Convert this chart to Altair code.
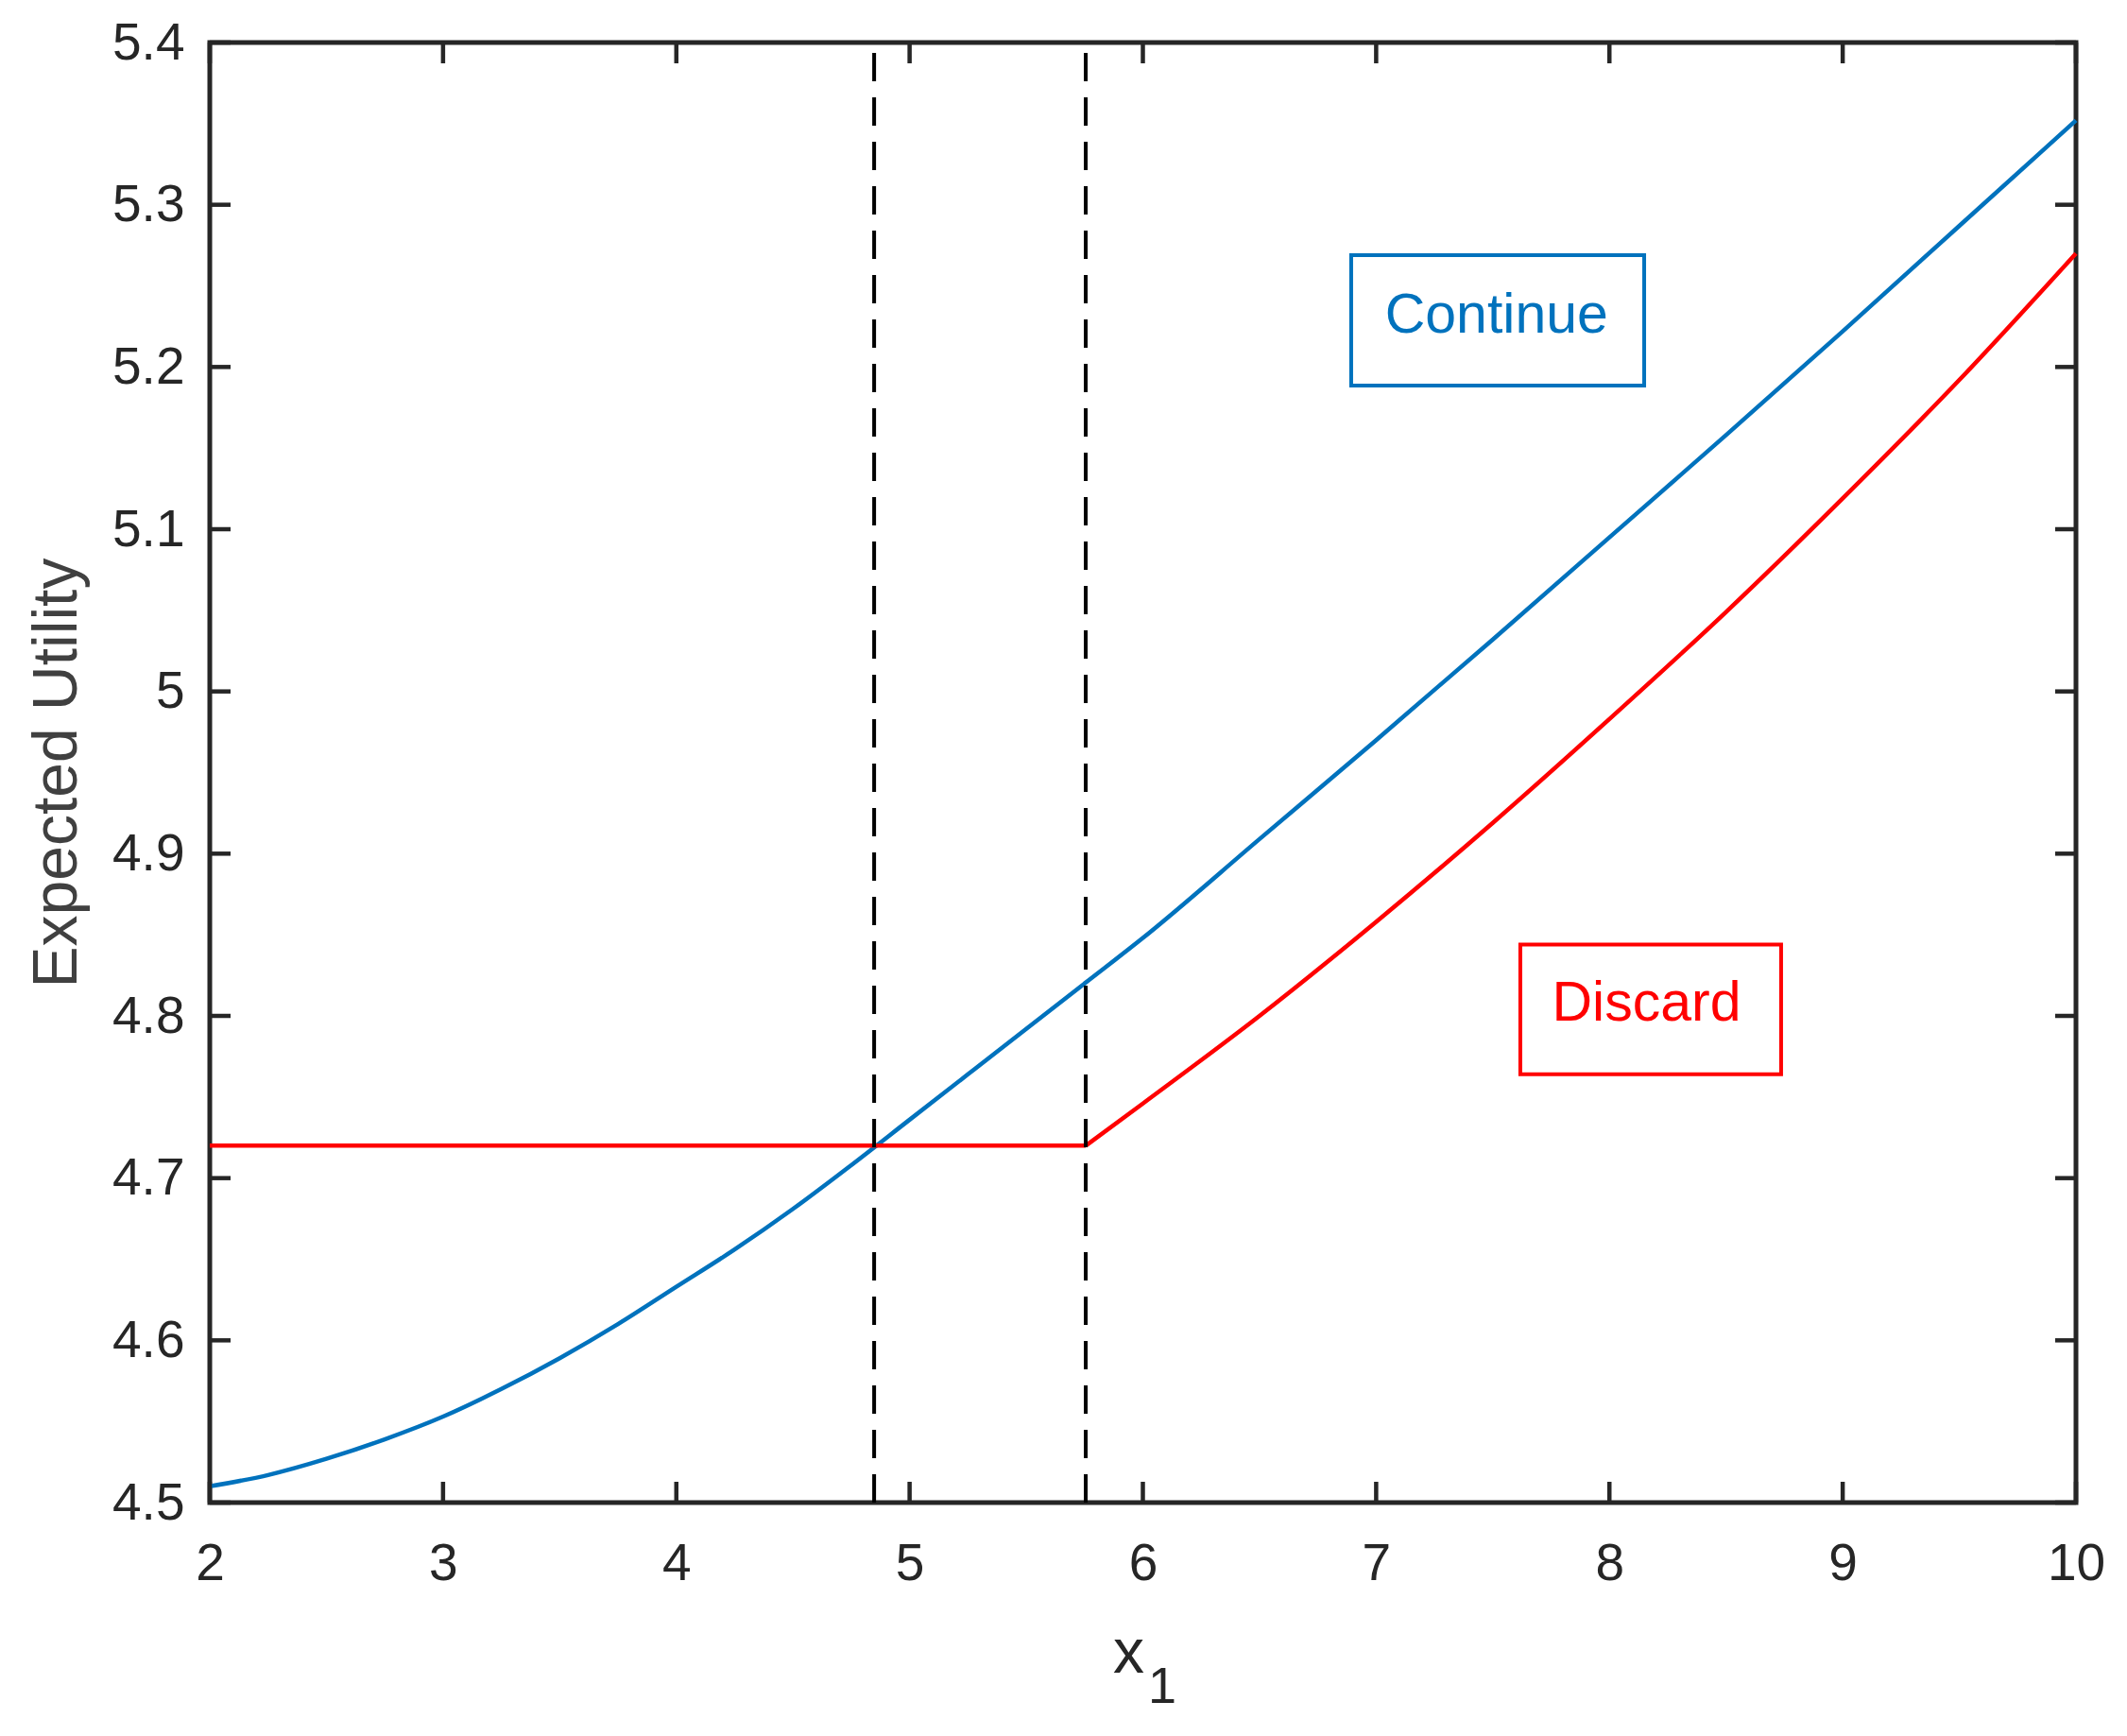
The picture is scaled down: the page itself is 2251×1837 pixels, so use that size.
import altair as alt
import pandas as pd

# ---------------- data ----------------
blue_x = [2.0, 2.25, 2.5, 2.75, 3.0, 3.25, 3.5, 3.75, 4.0, 4.25, 4.5, 4.75,
          5.0, 5.25, 5.5, 5.75, 6.0, 6.5, 7.0, 7.5, 8.0, 8.5, 9.0, 9.5, 10.0]
blue_y = [4.510, 4.517, 4.527, 4.539, 4.553, 4.570, 4.589, 4.610, 4.633, 4.656, 4.681, 4.708,
          4.736, 4.764, 4.792, 4.820, 4.848, 4.909, 4.970, 5.032, 5.095, 5.158, 5.222, 5.287, 5.352]

red_x = [2.0, 5.755, 6.0, 6.5, 7.0, 7.5, 8.0, 8.5, 9.0, 9.5, 10.0]
red_y = [4.72, 4.72, 4.746, 4.800, 4.858, 4.919, 4.983, 5.049, 5.119, 5.192, 5.270]
red_kink = 5.755

thresholds = [4.848, 5.755]

x_ticks = [2, 3, 4, 5, 6, 7, 8, 9, 10]
y_ticks = [4.5, 4.6, 4.7, 4.8, 4.9, 5.0, 5.1, 5.2, 5.3, 5.4]

annot_text = ["Continue", "Discard"]
annot_tx = [7.516, 8.159]
annot_ty = [5.2212, 4.797]
annot_x1 = [6.893, 7.618]
annot_x2 = [8.149, 8.736]
annot_y1 = [5.1885, 4.764]
annot_y2 = [5.269, 4.844]

# ---------------- layout ----------------
W, H = 1975, 1545
FONT = "Liberation Sans"
AX = "#262626"
BLUE = "#0072BD"
RED = "#FF0000"
TL = 22  # tick length
LW = 4.5

blue_df = pd.DataFrame({"x": blue_x, "y": blue_y})
red_df = pd.DataFrame({"x": red_x, "y": red_y})
thr_df = pd.DataFrame({"x": thresholds, "y": [4.5] * len(thresholds), "y2": [5.4] * len(thresholds)})
xt_df = pd.DataFrame({"x": x_ticks})
yt_df = pd.DataFrame({"y": y_ticks})

xs = alt.Scale(domain=[2, 10], nice=False, zero=False)
ys = alt.Scale(domain=[4.5, 5.4], nice=False, zero=False)

x_axis = alt.Axis(values=x_ticks, ticks=False, domain=False, grid=False,
                  labelFont=FONT, labelFontSize=55, labelColor=AX, labelPadding=38,
                  labelFlush=False, labelOverlap=False,
                  title="x", titleFont=FONT, titleFontSize=66, titleFontWeight="normal",
                  titleColor=AX, titleX=972, titleY=179, titleAlign="center",
                  titleBaseline="alphabetic")
y_axis = alt.Axis(values=y_ticks, ticks=False, domain=False, grid=False, format=".1~f",
                  labelFont=FONT, labelFontSize=55, labelColor=AX, labelPadding=27,
                  labelFlush=False, labelOverlap=False, labelBaseline="middle",
                  title="Expected Utility", titleFont=FONT, titleFontSize=66,
                  titleFontWeight="normal", titleColor="#404040", titleAngle=270,
                  titleX=-142, titleY=H / 2, titleAlign="center", titleBaseline="alphabetic")

X = alt.X("x:Q", scale=xs, axis=x_axis)
Y = alt.Y("y:Q", scale=ys, axis=y_axis)

layers = []

for i in range(len(annot_text)):
    col = BLUE if i == 0 else RED
    bdf = pd.DataFrame({"x": [annot_x1[i]], "x2": [annot_x2[i]],
                        "y": [annot_y1[i]], "y2": [annot_y2[i]]})
    layers.append(alt.Chart(bdf).mark_rect(fill="white", fillOpacity=0, stroke=col, strokeWidth=4)
                  .encode(x=X, x2="x2:Q", y=Y, y2="y2:Q"))
    tdf = pd.DataFrame({"x": [annot_tx[i]], "y": [annot_ty[i]], "t": [annot_text[i]]})
    layers.append(alt.Chart(tdf).mark_text(font=FONT, fontSize=59, color=col,
                                            align="center", baseline="alphabetic")
                  .encode(x=X, y=Y, text="t:N"))

blue_line = alt.Chart(blue_df).mark_line(color=BLUE, strokeWidth=LW, interpolate="monotone").encode(
    x=X, y=Y, order="x:Q")
red_flat = alt.Chart(red_df).transform_filter(alt.datum.x <= red_kink).mark_line(
    color=RED, strokeWidth=LW).encode(x=X, y=Y, order="x:Q")
red_rise = alt.Chart(red_df).transform_filter(alt.datum.x >= red_kink).mark_line(
    color=RED, strokeWidth=LW, interpolate="monotone").encode(x=X, y=Y, order="x:Q")
dashed = alt.Chart(thr_df).mark_rule(color="black", strokeWidth=4, strokeDash=[30, 17]).encode(
    x=X, y=Y, y2="y2:Q")

ticks_bottom = alt.Chart(xt_df).mark_rule(color=AX, strokeWidth=4.5).encode(
    x=X, y=alt.value(H), y2=alt.value(H - TL))
ticks_top = alt.Chart(xt_df).mark_rule(color=AX, strokeWidth=4.5).encode(
    x=X, y=alt.value(0), y2=alt.value(TL))
ticks_left = alt.Chart(yt_df).mark_rule(color=AX, strokeWidth=4.5).encode(
    y=Y, x=alt.value(0), x2=alt.value(TL))
ticks_right = alt.Chart(yt_df).mark_rule(color=AX, strokeWidth=4.5).encode(
    y=Y, x=alt.value(W - TL), x2=alt.value(W))

sub_df = pd.DataFrame({"t": ["1"]})
subscript = alt.Chart(sub_df).mark_text(font=FONT, fontSize=54, color=AX, align="left",
                                        baseline="alphabetic").encode(
    x=alt.value(993), y=alt.value(1757), text="t:N")

layers += [blue_line, red_flat, red_rise, dashed,
           ticks_bottom, ticks_top, ticks_left, ticks_right, subscript]

chart = alt.layer(*layers).properties(
    width=W, height=H,
    autosize=alt.AutoSizeParams(type="none"),
    padding={"left": 214, "top": 37, "right": 40, "bottom": 236},
    background="white",
).configure_view(stroke=AX, strokeWidth=5)

chart.save("out.html", embed_options={"renderer": "svg", "actions": False})
